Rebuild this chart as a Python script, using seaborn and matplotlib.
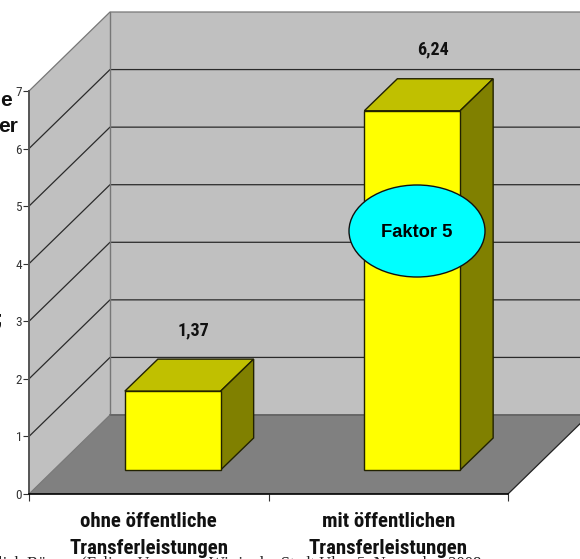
import matplotlib
matplotlib.use("Agg")
import matplotlib.pyplot as plt
import pandas as pd
import seaborn as sns
from matplotlib.patches import Ellipse, Polygon

# data
categories = ["ohne öffentliche\nTransferleistungen", "mit öffentlichen\nTransferleistungen"]
values = [1.37, 6.24]
value_labels = ["1,37", "6,24"]
y_ticks = [0, 1, 2, 3, 4, 5, 6, 7]

W, H = 580, 559
NARROW = ["Roboto Condensed", "Asap Condensed", "Liberation Sans"]
WIDE = ["Liberation Sans"]

sns.set_theme(style="white")
plt.rcParams["font.family"] = NARROW

fig = plt.figure(figsize=(W / 100, H / 100), dpi=100, facecolor="white")
# plot box in pixels: front floor edge 29..508, 0 at y=494, 7 at y=91
ax = fig.add_axes([29 / W, 1 - 494 / H, 479 / W, 403 / H])
ax.patch.set_visible(False)

df = pd.DataFrame({"cat": categories, "val": values})
sns.barplot(data=df, x="cat", y="val", color="#FFFF00", width=0.4, saturation=1,
            edgecolor="#222200", linewidth=1, ax=ax, zorder=5)
ax.set_xlim(-0.5, 1.5)
ax.set_ylim(0, 7)

# one pixel in data units, used for the fake 3D depth
PX = 2 / 479
PY = 7 / 403
wall_dx, wall_dy = 81 * PX, 79 * PY
bar_x, bar_y = 24 * PX, 24 * PY
side_dx, side_dy = 33 * PX, 32 * PY


def poly(pts, fc, ec="none", lw=0, z=1):
    ax.add_patch(Polygon(pts, closed=True, fc=fc, ec=ec, lw=lw, zorder=z, clip_on=False))


# walls and floor
x0, x1 = -0.5, 1.5
poly([(x0 + wall_dx, wall_dy), (x1 + wall_dx, wall_dy), (x1 + wall_dx, 7 + wall_dy), (x0 + wall_dx, 7 + wall_dy)], "#C0C0C0")
poly([(x0, 0), (x0 + wall_dx, wall_dy), (x0 + wall_dx, 7 + wall_dy), (x0, 7)], "#C0C0C0")
poly([(x0, 0), (x1, 0), (x1 + wall_dx, wall_dy), (x0 + wall_dx, wall_dy)], "#808080", z=2)

for t in y_ticks[1:]:
    col = "#777777" if t == 7 else "#2a2a2a"
    ax.plot([x0, x0 + wall_dx, x1 + wall_dx], [t, t + wall_dy, t + wall_dy], color=col,
            lw=0.9, zorder=1.5, clip_on=False)
ax.plot([x0 + wall_dx, x0 + wall_dx], [wall_dy, 7 + wall_dy], color="#777777", lw=1, zorder=1.5, clip_on=False)
ax.plot([x0 + wall_dx, x1 + wall_dx], [wall_dy, wall_dy], color="#666666", lw=1.4, zorder=2.5, clip_on=False)
ax.plot([x0, x0 + wall_dx], [0, wall_dy], color="#777777", lw=0.8, zorder=2.5, clip_on=False)
ax.plot([x1, x1 + wall_dx], [0, wall_dy], color="#222222", lw=0.9, zorder=2.5, clip_on=False)

# push the seaborn bars back into the room and add top and side faces
for bar, label in zip(ax.patches[:2], value_labels):
    bx = bar.get_x() + bar_x
    bw = bar.get_width()
    bh = bar.get_height()
    bar.set_x(bx)
    bar.set_y(bar_y)
    bar.set_zorder(5)
    top = bar_y + bh
    poly([(bx, top), (bx + bw, top), (bx + bw + side_dx, top + side_dy), (bx + side_dx, top + side_dy)],
         "#C0C000", "#222200", 1, 4)
    poly([(bx + bw, bar_y), (bx + bw + side_dx, bar_y + side_dy), (bx + bw + side_dx, top + side_dy), (bx + bw, top)],
         "#808000", "#222200", 1, 4)
    ax.text(bx + bw / 2 + 21 * PX, top + side_dy + 29 * PY, label, ha="center", va="center",
            fontsize=13, fontweight="bold", color="#111111", zorder=6)

# axes
ax.set_xlabel("")
ax.set_ylabel("")
for s in ("top", "right"):
    ax.spines[s].set_visible(False)
ax.spines["left"].set_color("#555555")
ax.spines["left"].set_linewidth(1.4)
ax.spines["bottom"].set_color("#000000")
ax.spines["bottom"].set_linewidth(1.2)
for s in ax.spines.values():
    s.set_zorder(7)
ax.set_yticks(y_ticks)
ax.tick_params(axis="y", left=True, length=4, width=0.8, color="#333333", pad=1, labelsize=9.5, labelcolor="#333333")
ax.set_xticks([0, 1])
ax.set_xticklabels(categories, fontsize=15, fontweight="bold", linespacing=1.5, color="#111111")
ax.tick_params(axis="x", which="major", length=0, pad=13)
ax.set_xticks([-0.5, 0.5, 1.5], minor=True)
ax.tick_params(axis="x", which="minor", bottom=True, length=5, width=0.8, color="#333333")

# Faktor bubble
fig.add_artist(Ellipse((417 / W, 1 - 231 / H), 136 / W, 92 / H, transform=fig.transFigure,
                       fc="#00FFFF", ec="#111111", lw=1, zorder=10))
fig.text(417 / W, 1 - 232 / H, "Faktor 5", ha="center", va="center", fontsize=13.2,
         fontweight="bold", family=WIDE, color="#000000", zorder=11)

# slide title cut off by the left edge of the picture
fig.text(12 / W, 1 - 101 / H, "e", ha="right", va="center", fontsize=15, fontweight="bold", family=WIDE, color="#111111")
fig.text(18 / W, 1 - 126 / H, "er", ha="right", va="center", fontsize=15, fontweight="bold", family=WIDE, color="#111111")
fig.text(2 / W, 1 - 320 / H, ";", ha="right", va="center", fontsize=15, fontweight="bold", family=WIDE, color="#111111")

# source line, only the top of it is inside the picture
fig.text(-2 / W, 1 - 568 / H, "lich Bürger  (Felix    Unsere      Wir in der Stadt Ulm, 5. November 2008",
         ha="left", va="baseline", fontsize=12, family=["Liberation Serif"], color="#222222")

fig.savefig("out.png", dpi=100)
